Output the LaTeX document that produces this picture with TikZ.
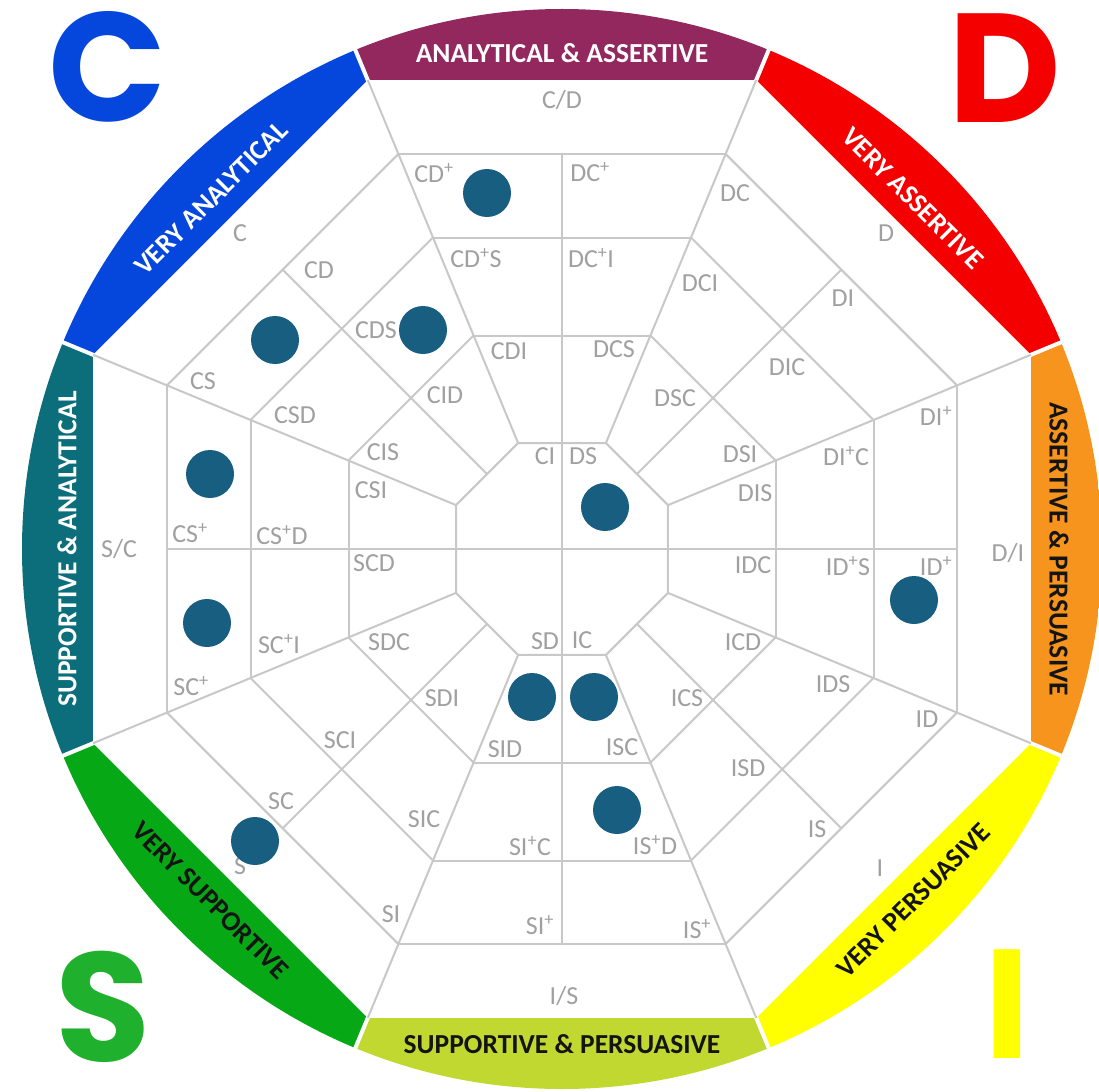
\documentclass[tikz,border=0pt]{standalone}
\usepackage{fontspec}
\setmainfont{Carlito}
\newfontfamily\bigfont{Poppins}
\definecolor{cPurple}{RGB}{146,40,94}
\definecolor{cRed}{RGB}{245,0,0}
\definecolor{cOrange}{RGB}{247,148,29}
\definecolor{cYellow}{RGB}{255,255,0}
\definecolor{cLime}{RGB}{192,216,48}
\definecolor{cGreen}{RGB}{6,168,22}
\definecolor{cTeal}{RGB}{11,110,122}
\definecolor{cBlue}{RGB}{5,70,220}
\definecolor{cDot}{RGB}{24,94,128}
\definecolor{cGridText}{RGB}{160,160,160}
\definecolor{cGrid}{RGB}{200,200,200}
\definecolor{cDark}{RGB}{20,20,20}
\newcommand\psup{\textsuperscript{+}}
\tikzset{
  lab/.style={text=cGridText,font=\fontsize{26}{30}\selectfont,inner sep=0pt},
  bandtext/.style={font=\bfseries\fontsize{27.5}{31}\selectfont,inner sep=0pt},
  bigletter/.style={font=\bigfont\bfseries\fontsize{155}{155}\selectfont,inner sep=0pt},
  gridline/.style={draw=cGrid,line width=2pt},
  gap/.style={draw=white,line width=4pt},
  dot/.style={circle,fill=cDot,minimum size=48pt,inner sep=0pt}
}
\begin{document}
\begin{tikzpicture}[x=1pt,y=-1pt]
\useasboundingbox (0,0) rectangle (1099,1091);
\begin{scope}[y=1pt,shift={(562pt,-549pt)}]
  \coordinate (O) at (0,0);
  % coloured bands
  \begin{scope}
    \clip (0,0) circle[radius=540pt];
    \fill[cOrange] (O) -- (-22.5:700) -- (22.5:700) -- cycle;
    \fill[cRed] (O) -- (22.5:700) -- (67.5:700) -- cycle;
    \fill[cPurple] (O) -- (67.5:700) -- (112.5:700) -- cycle;
    \fill[cBlue] (O) -- (112.5:700) -- (157.5:700) -- cycle;
    \fill[cTeal] (O) -- (157.5:700) -- (202.5:700) -- cycle;
    \fill[cGreen] (O) -- (202.5:700) -- (247.5:700) -- cycle;
    \fill[cLime] (O) -- (247.5:700) -- (292.5:700) -- cycle;
    \fill[cYellow] (O) -- (292.5:700) -- (337.5:700) -- cycle;
  \end{scope}
  \fill[white] (22.5:507.6) -- (67.5:507.6) -- (112.5:507.6) -- (157.5:507.6)
    -- (202.5:507.6) -- (247.5:507.6) -- (292.5:507.6) -- (337.5:507.6) -- cycle;
  \foreach \a in {22.5,67.5,...,337.5} \draw[gap] (\a:505) -- (\a:560);
  % grid
  \foreach \a in {22.5,67.5,...,337.5} \draw[gridline] (\a:507.6) -- (\a:114.7);
  \foreach \p in {0,45,...,315}
    \foreach \d in {395,311.5,213.5}
      \draw[gridline] ({\p-22.5}:{\d/0.92388}) -- ({\p+22.5}:{\d/0.92388});
  \draw[gridline] (22.5:114.7) -- (67.5:114.7) -- (112.5:114.7) -- (157.5:114.7)
    -- (202.5:114.7) -- (247.5:114.7) -- (292.5:114.7) -- (337.5:114.7) -- cycle;
  \foreach \p in {45,135,225,315} \draw[gridline] (\p:395) -- (\p:106);
  \draw[gridline] (90:395) -- (270:395);
  \draw[gridline] (0:395) -- (180:395);
  % band labels
  \node[bandtext,text=white] (bAA) at (90:496) {ANALYTICAL \& ASSERTIVE};
  \node[bandtext,text=white,rotate=-45] (bVA) at (45:496) {VERY ASSERTIVE};
  \node[bandtext,text=cDark,rotate=-90] (bAP) at (0:497) {ASSERTIVE \& PERSUASIVE};
  \node[bandtext,text=cDark,rotate=45] (bVP) at (315:497) {VERY PERSUASIVE};
  \node[bandtext,text=cDark] (bSP) at (270:495) {SUPPORTIVE \& PERSUASIVE};
  \node[bandtext,text=cDark,rotate=-45] (bVS) at (225:497) {VERY SUPPORTIVE};
  \node[bandtext,text=white,rotate=90] (bSA) at (180:495) {SUPPORTIVE \& ANALYTICAL};
  \node[bandtext,text=white,rotate=45] (bVN) at (135:496) {VERY ANALYTICAL};
\end{scope}
% big letters
\node[bigletter,text=cBlue] (bigC) at (108,67) {C};
\node[bigletter,text=cRed] (bigD) at (1005,68) {D};
\node[bigletter,text=cGreen!90!white] (bigS) at (103,1007) {S};
\node[bigletter,text=cYellow] (bigI) at (1007,1004) {I};
% top octant
\node[lab] (lCslD) at (562,100) {C/D};
\node[lab] (lCDp) at (434,173) {CD\psup};
\node[lab] (lDCp) at (590,172) {DC\psup};
\node[lab] (lCDpS) at (476,258) {CD\psup S};
\node[lab] (lDCpI) at (591,258) {DC\psup I};
\node[lab] (lCDI) at (509,351) {CDI};
\node[lab] (lDCS) at (614,349) {DCS};
% C octant
\node[lab] (lC) at (240,233) {C};
\node[lab] (lCD) at (319,270) {CD};
\node[lab] (lCS) at (203,381) {CS};
\node[lab] (lCDS) at (376,330) {CDS};
\node[lab] (lCSD) at (295,415) {CSD};
\node[lab] (lCID) at (445,395) {CID};
\node[lab] (lCIS) at (383,452) {CIS};
% left octant
\node[lab] (lSslC) at (119,549) {S/C};
\node[lab] (lCSp) at (190,533) {CS\psup};
\node[lab] (lCSpD) at (282,535) {CS\psup D};
\node[lab] (lCSI) at (371,490) {CSI};
\node[lab] (lSCD) at (374,563) {SCD};
\node[lab] (lSCpI) at (279,644) {SC\psup I};
\node[lab] (lSCp) at (191,686) {SC\psup};
% S octant
\node[lab] (lSDC) at (389,642) {SDC};
\node[lab] (lSDI) at (442,698) {SDI};
\node[lab] (lSCI) at (340,740) {SCI};
\node[lab] (lSC) at (281,801) {SC};
\node[lab] (lSIC) at (424,819) {SIC};
\node[lab] (lS) at (240,866) {S};
\node[lab] (lSI) at (391,914) {SI};
% bottom octant
\node[lab] (lSID) at (505,749) {SID};
\node[lab] (lSIpC) at (530,846) {SI\psup C};
\node[lab] (lSIp) at (540,925) {SI\psup};
\node[lab] (lIslS) at (564,996) {I/S};
\node[lab] (lISC) at (622,747) {ISC};
\node[lab] (lISpD) at (655,845) {IS\psup D};
\node[lab] (lISp) at (697,929) {IS\psup};
% I octant
\node[lab] (lICD) at (743,642) {ICD};
\node[lab] (lICS) at (687,698) {ICS};
\node[lab] (lIDS) at (833,684) {IDS};
\node[lab] (lISD) at (748,768) {ISD};
\node[lab] (lID) at (927,719) {ID};
\node[lab] (lIS) at (817,829) {IS};
\node[lab] (lI) at (880,868) {I};
% right octant
\node[lab] (lDslI) at (1008,553) {D/I};
\node[lab] (lIDp) at (936,566) {ID\psup};
\node[lab] (lIDpS) at (848,566) {ID\psup S};
\node[lab] (lIDC) at (753,565) {IDC};
\node[lab] (lDIS) at (755,493) {DIS};
\node[lab] (lDIpC) at (846,456) {DI\psup C};
\node[lab] (lDIp) at (936,416) {DI\psup};
\node[lab] (lDSI) at (740,454) {DSI};
% D octant
\node[lab] (lD) at (886,233) {D};
\node[lab] (lDC) at (735,193) {DC};
\node[lab] (lDI) at (843,298) {DI};
\node[lab] (lDCI) at (700,283) {DCI};
\node[lab] (lDIC) at (787,367) {DIC};
\node[lab] (lDSC) at (675,398) {DSC};
% inner octagon
\node[lab] (lCI) at (545,456) {CI};
\node[lab] (lDS) at (583,456) {DS};
\node[lab] (lSD) at (545,641) {SD};
\node[lab] (lIC) at (582,640) {IC};
% dots
\node[dot] (d1) at (487,193) {};
\node[dot] (d2) at (275,340) {};
\node[dot] (d3) at (423,330) {};
\node[dot] (d4) at (210,474) {};
\node[dot] (d5) at (207,623) {};
\node[dot] (d6) at (255,841) {};
\node[dot] (d7) at (532,697) {};
\node[dot] (d8) at (594,697) {};
\node[dot] (d9) at (617,810) {};
\node[dot] (d10) at (605,507) {};
\node[dot] (d11) at (914,600) {};
\end{tikzpicture}
\end{document}
